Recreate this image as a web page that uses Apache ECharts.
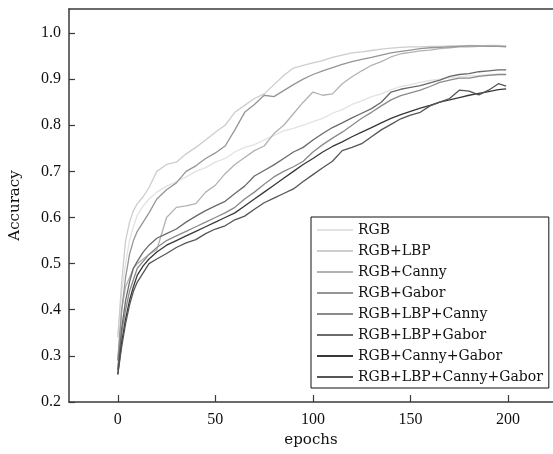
<!DOCTYPE html>
<html>
<head>
<meta charset="utf-8">
<script src="https://cdn.jsdelivr.net/npm/echarts@6/dist/echarts.min.js"></script>
<style>html,body{margin:0;padding:0;background:#fff;}#c{width:553px;height:454px;}</style>
</head>
<body>
<div id="c"></div>
<script>
const epochs = [0,2,4,6,8,10,13,16,20,25,30,35,40,45,50,55,60,65,70,75,80,85,90,95,100,105,110,115,120,125,130,135,140,145,150,155,160,165,170,175,180,185,190,195,199];
const xTicks = [0,50,100,150,200];
const yTicks = [0.2,0.3,0.4,0.5,0.6,0.7,0.8,0.9,1.0];
const seriesNames = ['RGB','RGB+LBP','RGB+Canny','RGB+Gabor','RGB+LBP+Canny','RGB+LBP+Gabor','RGB+Canny+Gabor','RGB+LBP+Canny+Gabor'];
const seriesColors = ['#e2e2e2','#cdcdcd','#b2b2b2','#959595','#8a8a8a','#6a6a6a','#383838','#555555'];

const rgb = [0.34,0.44,0.50,0.55,0.58,0.605,0.625,0.64,0.655,0.668,0.678,0.688,0.70,0.708,0.72,0.728,0.742,0.752,0.758,0.768,0.778,0.788,0.793,0.80,0.808,0.815,0.826,0.834,0.845,0.853,0.862,0.868,0.877,0.884,0.888,0.893,0.897,0.9,0.903,0.905,0.907,0.908,0.91,0.91,0.91];
const rgbLbp = [0.34,0.46,0.55,0.59,0.615,0.63,0.645,0.665,0.70,0.715,0.72,0.738,0.752,0.768,0.785,0.80,0.828,0.843,0.858,0.868,0.888,0.908,0.924,0.93,0.935,0.94,0.947,0.952,0.957,0.959,0.962,0.965,0.967,0.969,0.97,0.97,0.971,0.971,0.972,0.972,0.973,0.972,0.973,0.973,0.972];
const rgbCanny = [0.29,0.40,0.45,0.47,0.49,0.50,0.51,0.52,0.53,0.60,0.622,0.625,0.63,0.655,0.67,0.695,0.715,0.73,0.745,0.755,0.782,0.80,0.825,0.85,0.872,0.865,0.868,0.89,0.905,0.918,0.93,0.938,0.948,0.955,0.958,0.961,0.963,0.966,0.968,0.97,0.97,0.971,0.972,0.971,0.971];
const rgbGabor = [0.29,0.40,0.47,0.52,0.55,0.57,0.59,0.61,0.64,0.66,0.675,0.70,0.712,0.728,0.74,0.755,0.79,0.828,0.845,0.865,0.862,0.875,0.888,0.90,0.91,0.918,0.925,0.932,0.938,0.943,0.947,0.952,0.957,0.96,0.963,0.966,0.968,0.969,0.97,0.971,0.972,0.972,0.971,0.971,0.97];
const rgbLbpCanny = [0.27,0.35,0.40,0.44,0.465,0.49,0.505,0.52,0.535,0.55,0.56,0.57,0.58,0.59,0.60,0.61,0.622,0.64,0.655,0.672,0.688,0.70,0.71,0.722,0.742,0.758,0.772,0.785,0.80,0.815,0.828,0.842,0.855,0.864,0.87,0.876,0.884,0.893,0.898,0.902,0.902,0.906,0.908,0.91,0.91];
const rgbLbpGabor = [0.27,0.36,0.42,0.46,0.49,0.505,0.525,0.54,0.555,0.565,0.575,0.59,0.603,0.615,0.625,0.635,0.652,0.668,0.69,0.702,0.714,0.728,0.742,0.752,0.768,0.782,0.795,0.805,0.816,0.826,0.836,0.85,0.872,0.878,0.882,0.886,0.892,0.898,0.906,0.91,0.912,0.916,0.918,0.92,0.92];
const rgbCannyGabor = [0.26,0.33,0.38,0.42,0.45,0.475,0.495,0.51,0.525,0.54,0.55,0.56,0.57,0.58,0.59,0.60,0.61,0.625,0.64,0.655,0.67,0.685,0.70,0.715,0.728,0.742,0.754,0.764,0.775,0.785,0.795,0.805,0.815,0.823,0.83,0.837,0.843,0.85,0.855,0.86,0.865,0.869,0.873,0.877,0.879];
const rgbLbpCannyGabor = [0.26,0.32,0.37,0.41,0.44,0.46,0.48,0.50,0.51,0.522,0.535,0.545,0.552,0.565,0.575,0.582,0.595,0.603,0.618,0.632,0.642,0.652,0.662,0.678,0.693,0.708,0.722,0.745,0.752,0.76,0.775,0.79,0.802,0.814,0.822,0.828,0.842,0.85,0.858,0.876,0.874,0.866,0.876,0.89,0.885];

const allValues = [rgb,rgbLbp,rgbCanny,rgbGabor,rgbLbpCanny,rgbLbpGabor,rgbCannyGabor,rgbLbpCannyGabor];

const chart = echarts.init(document.getElementById('c'), null, {renderer:'canvas'});
const axisCol = '#3a3a3a';
const serifFont = 'DejaVu Serif';
const tickFont = 'Liberation Serif';

chart.setOption({
  animation: false,
  backgroundColor: '#fff',
  grid: {left: 68, top: 9, right: 0, bottom: 52, show: false},
  xAxis: [{
    type: 'value', min: -25, max: 223,
    name: 'epochs', nameLocation: 'middle', nameGap: 28,
    nameTextStyle: {fontFamily: serifFont, fontSize: 15, color: '#111'},
    axisLine: {show: true, onZero: false, lineStyle: {color: axisCol, width: 1.5}},
    axisTick: {show: true, inside: true, length: 7, customValues: xTicks, lineStyle: {color: axisCol, width: 1.2}},
    axisLabel: {customValues: xTicks, margin: 10, fontFamily: tickFont, fontSize: 16, color: '#111'},
    splitLine: {show: false}
  }, {
    type: 'value', position: 'top', min: -25, max: 223,
    axisLine: {show: true, onZero: false, lineStyle: {color: axisCol, width: 1.5}},
    axisTick: {show: false}, axisLabel: {show: false}, splitLine: {show: false}
  }],
  yAxis: {
    type: 'value', min: 0.2, max: 1.052,
    name: 'Accuracy', nameLocation: 'middle', nameGap: 46, nameRotate: 90,
    nameTextStyle: {fontFamily: serifFont, fontSize: 15, color: '#111'},
    axisLine: {show: true, onZero: false, lineStyle: {color: axisCol, width: 1.5}},
    axisTick: {show: true, inside: true, length: 6, customValues: yTicks, lineStyle: {color: axisCol, width: 1.2}},
    axisLabel: {customValues: yTicks, margin: 8, fontFamily: tickFont, fontSize: 16, color: '#111', formatter: v => v.toFixed(1)},
    splitLine: {show: false}
  },
  legend: {
    orient: 'vertical', left: 311, top: 217,
    backgroundColor: '#fff', borderColor: '#111', borderWidth: 1,
    padding: [6, 6, 4, 6], itemGap: 7, itemWidth: 36, itemHeight: 14,
    icon: 'path://M0,0 L36,0 L36,2 L0,2 Z',
    textStyle: {fontFamily: serifFont, fontSize: 14, color: '#111'},
    data: seriesNames
  },
  series: seriesNames.map((n, i) => ({
    name: n, type: 'line', symbol: 'none', smooth: false, xAxisIndex: 0,
    data: epochs.map((e, j) => [e, allValues[i][j]]),
    lineStyle: {color: seriesColors[i], width: 1.3},
    itemStyle: {color: seriesColors[i]},
    z: 2 + i
  }))
});
</script>
</body>
</html>
